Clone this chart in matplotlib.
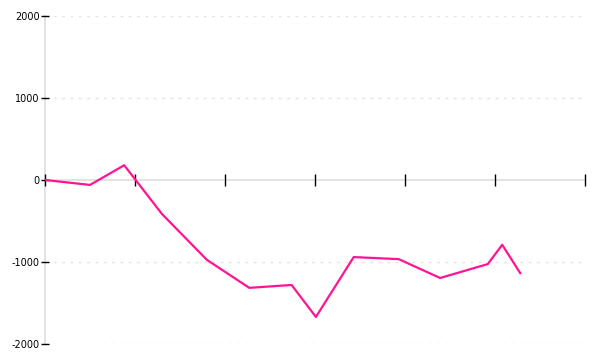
import matplotlib
matplotlib.use("Agg")
import matplotlib.pyplot as plt

x_vals = [0.0, 0.5, 0.88, 1.3, 1.8, 2.27, 2.74, 3.01, 3.43, 3.93, 4.39, 4.92, 5.08, 5.28]
y_vals = [0, -60, 180, -415, -975, -1315, -1280, -1670, -940, -965, -1195, -1025, -790, -1135]
y_ticks = [-2000, -1000, 0, 1000, 2000]
x_ticks = [0, 1, 2, 3, 4, 5, 6]

fig = plt.figure(figsize=(6, 3.6), dpi=100)
ax = fig.add_axes([0.075, 0.0444, 0.9, 0.9112])
ax.set_xlim(0, 6)
ax.set_ylim(-2000, 2000)

for yt in y_ticks:
    if yt != 0:
        ax.axhline(yt, color="#e4e4e4", lw=1, ls=(0, (2, 4)), zorder=0)

ax.plot(x_vals, y_vals, color="#ff1493", lw=1.6, zorder=3)

for s in ["top", "right"]:
    ax.spines[s].set_visible(False)
ax.spines["left"].set_color("#dddddd")
ax.spines["bottom"].set_position(("data", 0))
ax.spines["bottom"].set_color("#dddddd")
ax.spines["bottom"].set_linewidth(1.2)
ax.spines["left"].set_linewidth(1.2)
ax.spines["left"].set_zorder(1)
ax.spines["bottom"].set_zorder(1)

ax.set_yticks(y_ticks)
ax.set_yticklabels([str(v) for v in y_ticks])
ax.set_xticks(x_ticks)
ax.set_xticklabels([])
ax.tick_params(axis="y", direction="inout", length=6, width=1, color="black",
               labelsize=7, pad=1)
ax.tick_params(axis="x", direction="inout", length=9, width=1, color="black")

fig.savefig("out.png", dpi=100)
